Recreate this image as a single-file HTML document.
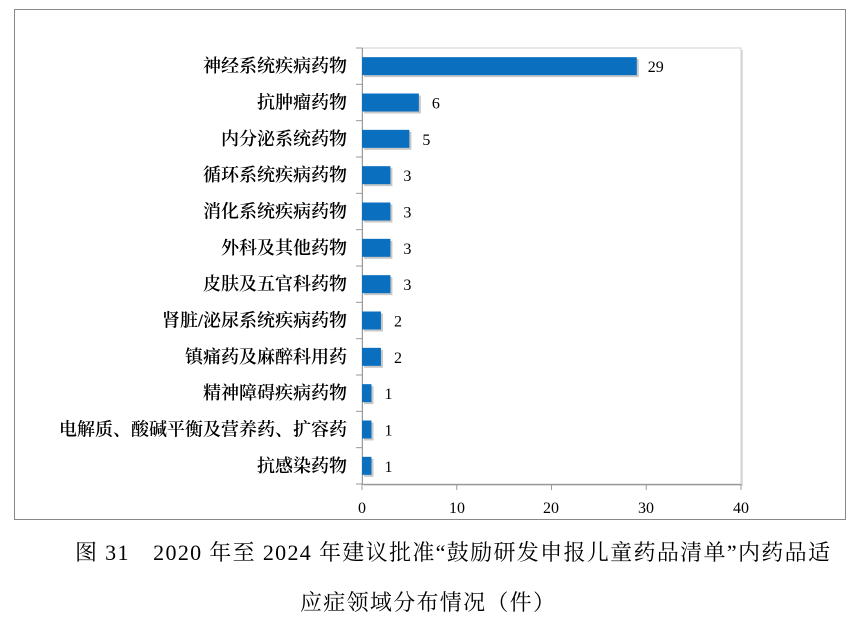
<!DOCTYPE html>
<html><head><meta charset="utf-8"><style>
body{margin:0;width:861px;height:630px;background:#fff;overflow:hidden;font-family:"Liberation Serif","Noto Serif CJK SC",serif;}
</style></head><body>
<svg width="861" height="630" xmlns="http://www.w3.org/2000/svg" style="position:absolute;left:0;top:0">
<rect x="14.5" y="9.5" width="831" height="510" fill="#fff" stroke="#888" stroke-width="1"/>
<rect x="364" y="50" width="379" height="436" fill="#ddd"/>
<rect x="362" y="48" width="379" height="436" fill="#fff" stroke="#d0d0d0" stroke-width="1"/>
<g stroke="#999" stroke-width="1">
<line x1="362.5" y1="48" x2="362.5" y2="484"/>
<line x1="362" y1="484.5" x2="741" y2="484.5"/>
</g>
<g stroke="#999" stroke-width="1" id="ticks"></g>
<g id="bars"></g>
<g font-size="18" font-weight="600" text-anchor="end" fill="#000" id="labels"></g>
<g font-size="16" fill="#000" id="vals"></g>
<g font-size="16" text-anchor="middle" fill="#000">
<text x="362" y="513">0</text><text x="457" y="513">10</text><text x="551" y="513">20</text><text x="646" y="513">30</text><text x="741" y="513">40</text>
</g>
<g font-size="22" fill="#000">
<text x="75" y="560" textLength="755" lengthAdjust="spacing">图 31　2020 年至 2024 年建议批准“鼓励研发申报儿童药品清单”内药品适</text>
<text x="300" y="610" textLength="255" lengthAdjust="spacing">应症领域分布情况（件）</text>
</g>
</svg>
<script>
var cats=["神经系统疾病药物","抗肿瘤药物","内分泌系统药物","循环系统疾病药物","消化系统疾病药物","外科及其他药物","皮肤及五官科药物","肾脏/泌尿系统疾病药物","镇痛药及麻醉科用药","精神障碍疾病药物","电解质、酸碱平衡及营养药、扩容药","抗感染药物"];
var v=[29,6,5,3,3,3,3,2,2,1,1,1];
var ns="http://www.w3.org/2000/svg";
function el(t,a,p,txt){var e=document.createElementNS(ns,t);for(var k in a)e.setAttribute(k,a[k]);if(txt)e.textContent=txt;document.getElementById(p).appendChild(e);}
var h=436/12,s=379/40;
for(var i=0;i<=12;i++){el("line",{x1:356,x2:362,y1:48+h*i,y2:48+h*i},"ticks");}
for(var j=0;j<=4;j++){var x=362+j*94.75;el("line",{x1:x,x2:x,y1:484,y2:490},"ticks");}
for(var i=0;i<12;i++){var c=48+h*i+h/2;
el("rect",{x:364,y:c-7,width:v[i]*s,height:18,fill:"#c8c8c8"},"bars");
el("rect",{x:362,y:c-9,width:v[i]*s,height:18,fill:"#0b6fc0"},"bars");
el("text",{x:347,y:c+6},"labels",cats[i]);
el("text",{x:362+v[i]*s+(v[i]>9?11:13),y:c+6},"vals",String(v[i]));}
</script>
</body></html>
